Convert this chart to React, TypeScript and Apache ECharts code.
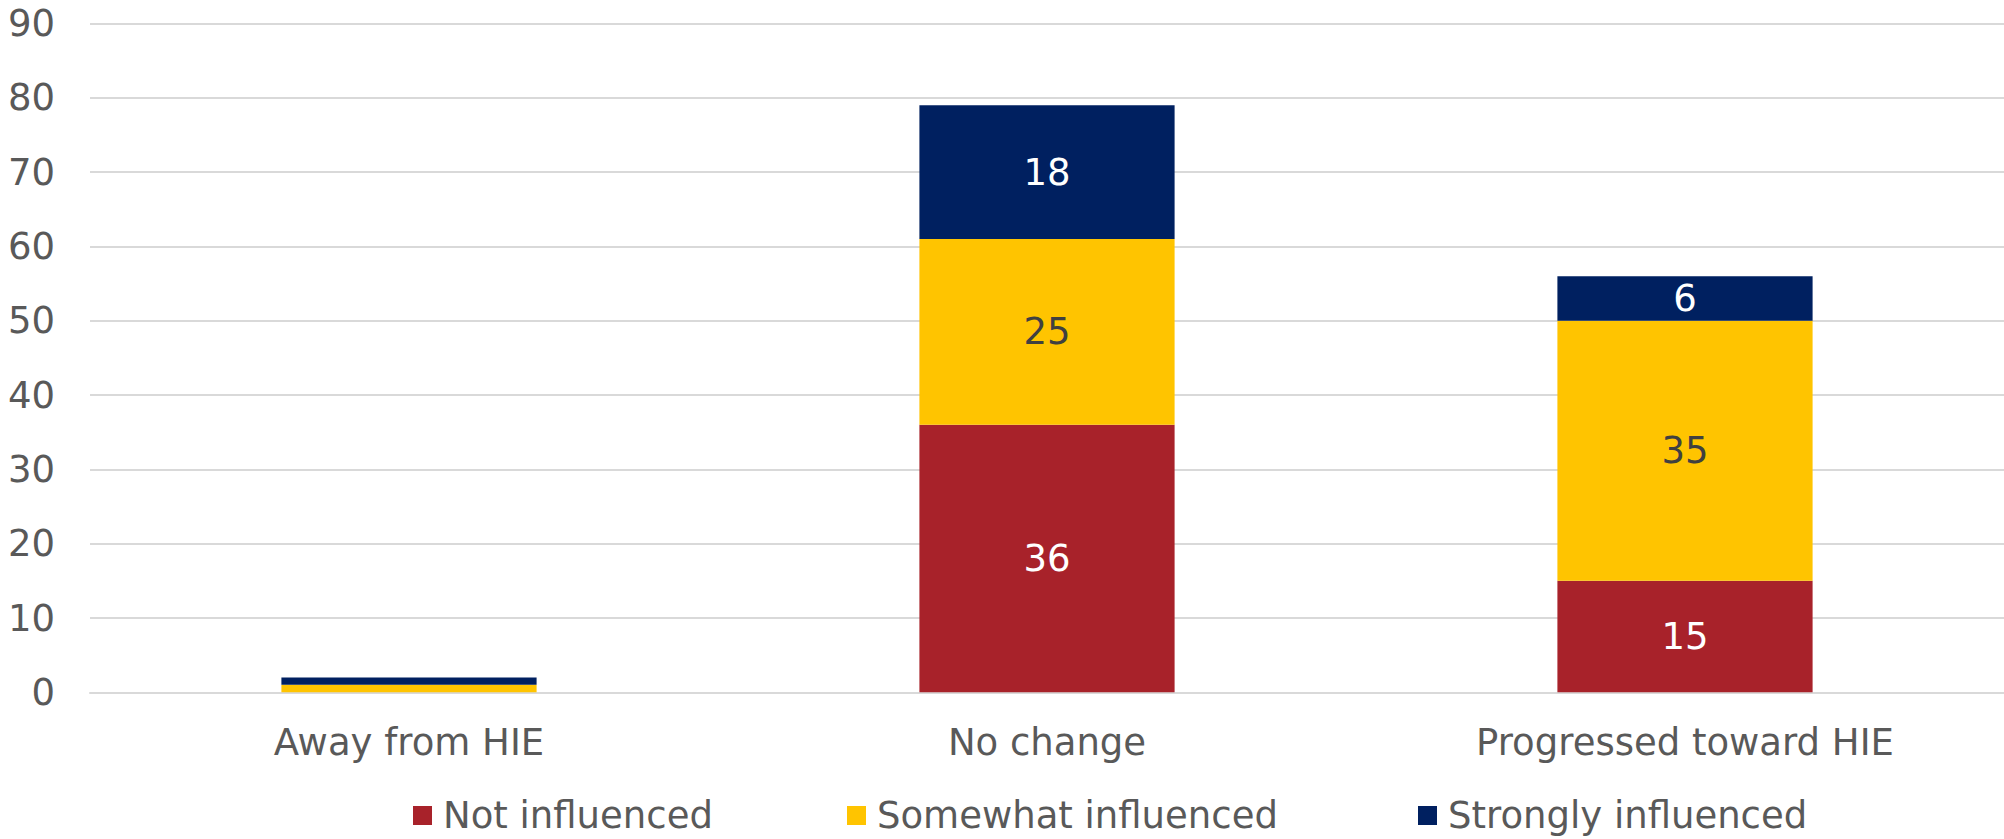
import React, { useEffect, useRef } from "react";
import * as echarts from "echarts";

const categories = ["Away from HIE", "No change", "Progressed toward HIE"];
const seriesNames = ["Not influenced", "Somewhat influenced", "Strongly influenced"];
const notInfluenced = [0, 36, 15];
const somewhatInfluenced = [1, 25, 35];
const stronglyInfluenced = [1, 18, 6];
const yTicks = { min: 0, max: 90, interval: 10 };

const FONT = "DejaVu Sans";
const GRAY = "#595959";
const FS = 37;

export default function App() {
  const ref = useRef<HTMLDivElement>(null);
  useEffect(() => {
    if (!ref.current) return;
    const chart = echarts.init(ref.current, null, { renderer: "svg" });
    const label = (color: string) => ({
      show: true,
      position: "inside",
      color,
      fontFamily: FONT,
      fontSize: FS,
      formatter: (p: any) => (p.value >= 2 ? String(p.value) : ""),
    });
    const mk = (name: string, data: number[], color: string, textColor: string) => ({
      name,
      type: "bar",
      stack: "total",
      data,
      barWidth: "40%",
      itemStyle: { color },
      label: label(textColor),
      emphasis: { disabled: true },
    });
    const legendLefts = [413, 847, 1418];
    const legends = seriesNames.map((n, i) => ({
      left: legendLefts[i],
      top: 797,
      padding: 0,
      itemWidth: 19,
      itemHeight: 19,
      icon: "rect",
      textStyle: { color: GRAY, fontSize: FS, fontFamily: FONT, padding: [0, 0, 0, 6] },
      data: [n],
    }));
    chart.setOption({
      animation: false,
      textStyle: { fontFamily: FONT },
      grid: { left: 90, right: 0, top: 23.6, bottom: 146.7, containLabel: false },
      legend: legends,
      xAxis: {
        type: "category",
        data: categories,
        axisLine: { show: true, lineStyle: { color: "#D9D9D9", width: 2 } },
        axisTick: { show: false },
        axisLabel: { color: GRAY, fontSize: FS, fontFamily: FONT, margin: 32 },
      },
      yAxis: {
        type: "value",
        min: yTicks.min,
        max: yTicks.max,
        interval: yTicks.interval,
        axisLine: { show: false },
        axisTick: { show: false },
        splitLine: { lineStyle: { color: "#D9D9D9", width: 2 } },
        axisLabel: { color: GRAY, fontSize: FS, fontFamily: FONT, margin: 35 },
      },
      series: [
        mk(seriesNames[0], notInfluenced, "#A8222A", "#FFFFFF"),
        mk(seriesNames[1], somewhatInfluenced, "#FFC400", "#404040"),
        mk(seriesNames[2], stronglyInfluenced, "#002060", "#FFFFFF"),
      ],
    });
    return () => chart.dispose();
  }, []);
  return (
    <div
      ref={ref}
      style={{ position: "fixed", left: 0, top: 0, width: 2004, height: 839, background: "#fff" }}
    />
  );
}
